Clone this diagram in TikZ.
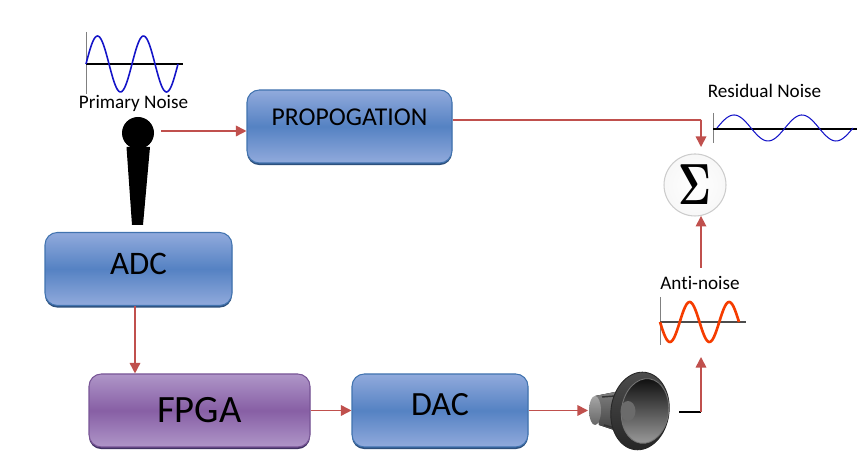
\documentclass[tikz,border=0pt]{standalone}
\usepackage{fontspec}
\setmainfont[Ligatures=NoCommon]{Carlito}
\usetikzlibrary{arrows.meta,shapes.geometric,shadows}
\definecolor{linered}{RGB}{192,80,77}
\definecolor{blueedge}{RGB}{65,115,175}
\definecolor{blueshade}{RGB}{45,80,125}
\definecolor{bluelight}{RGB}{145,170,220}
\definecolor{bluemid}{RGB}{85,130,195}
\definecolor{purpleedge}{RGB}{120,85,150}
\definecolor{purpleshade}{RGB}{65,50,100}
\definecolor{purplelight}{RGB}{175,150,200}
\definecolor{purplemid}{RGB}{135,95,165}
\definecolor{waveblue}{RGB}{20,20,200}
\definecolor{wavered}{RGB}{245,60,0}
\begin{document}
\begin{tikzpicture}
    \tikzstyle{blk} = [draw=blueedge, line width=0.6pt, rounded corners=7pt, top color=bluelight, bottom color=bluelight, middle color=bluemid, text=black, inner sep=0pt, drop shadow={shadow xshift=0pt, shadow yshift=-1.2pt, opacity=1, fill=blueshade}]
    \tikzstyle{plk} = [draw=purpleedge, line width=0.6pt, rounded corners=7pt, top color=purplelight, bottom color=purplelight, middle color=purplemid, text=black, inner sep=0pt, drop shadow={shadow xshift=0pt, shadow yshift=-1.2pt, opacity=1, fill=purpleshade}]
    \tikzstyle{arr} = [draw=linered, line width=0.9pt, -{Triangle[length=6pt, width=6pt]}]
    \tikzstyle{seg} = [draw=linered, line width=0.9pt]
    \tikzstyle{axisline} = [draw=black, line width=1pt]
    \tikzstyle{axisv} = [draw=gray, line width=0.4pt]
    \tikzstyle{lbl} = [inner sep=0pt, font=\fontsize{10.9}{12}\selectfont]
    \useasboundingbox (0, 0) rectangle (17.2, 9.16);

    % boxes
    \node[blk, minimum width=4.1cm, minimum height=1.46cm, font=\fontsize{14.6}{15}\selectfont] (prop) at (6.99, 6.63) {\raisebox{10.5pt}{PROPOGATION}};
    \node[blk, minimum width=3.74cm, minimum height=1.46cm, font=\fontsize{18.7}{19}\selectfont] (adc) at (2.77, 3.78) {\raisebox{6pt}{ADC}};
    \node[plk, minimum width=4.42cm, minimum height=1.46cm, font=\fontsize{22}{23}\selectfont] (fpga) at (3.99, 0.95) {FPGA};
    \node[blk, minimum width=3.52cm, minimum height=1.46cm, font=\fontsize{19.3}{20}\selectfont] (dac) at (8.8, 0.95) {\raisebox{7pt}{DAC}};
    \node[circle, draw=black!20, line width=0.6pt, inner color=white, outer color=black!3, minimum size=1.24cm, inner sep=0pt] (sum) at (13.9, 5.46) {\scalebox{2.25}[3.3]{\boldmath$\Sigma$}};

    % labels
    \node[lbl] (primary) at (2.67, 7.1) {Primary Noise};
    \node[lbl] (residual) at (15.29, 7.34) {Residual Noise};
    \node[lbl] (antinoise) at (14.0, 3.5) {Anti-noise};

    % microphone
    \node[circle, fill=black, minimum size=0.64cm, inner sep=0pt] (mic) at (2.76, 6.5) {};
    \fill[black] (2.53, 6.22) -- (3.0, 6.22) -- (2.86, 4.66) -- (2.64, 4.66) -- cycle;

    % speaker
    \fill[top color=black!50, bottom color=black!75] (11.9, 1.24) -- (12.4, 1.34) -- (12.4, 0.52) -- (11.98, 0.66) -- cycle;
    \node[ellipse, draw=none, top color=black!35, bottom color=black!60, minimum width=0.24cm, minimum height=0.58cm, inner sep=0pt] (magnet) at (11.9, 0.95) {};
    \draw[black!80, line width=0.8pt] (12.04, 1.22) -- (12.3, 1.24);
    \draw[black!80, line width=0.8pt] (12.08, 0.66) -- (12.3, 0.6);
    \node[ellipse, rotate=-8, draw=black!85, line width=0.5pt, minimum width=1.16cm, minimum height=1.56cm, inner sep=0pt, top color=black!70, bottom color=black!85] (spk) at (12.8, 0.94) {};
    \node[ellipse, rotate=-8, draw=black!55, line width=0.5pt, minimum width=0.94cm, minimum height=1.3cm, inner sep=0pt, top color=black!95, bottom color=black!40] (cone) at (12.9, 0.94) {};
    \node[ellipse, fill=black!58, minimum width=0.3cm, minimum height=0.4cm, inner sep=0pt] (cap) at (12.56, 0.94) {};
    \coordinate (spkin) at (11.76, 0.95);
    \coordinate (spkout) at (13.58, 0.92);

    % waves
    \draw[axisv] (1.72, 8.52) -- (1.72, 7.28);
    \draw[axisline] (1.72, 7.88) -- (3.66, 7.88);
    \draw[waveblue, line width=0.9pt, domain=0:2, samples=80, smooth] plot ({1.72 + 1.84*\x/2}, {7.88 + 0.56*sin(360*\x)});
    \draw[axisv] (14.26, 6.9) -- (14.26, 6.3);
    \draw[axisline] (14.26, 6.58) -- (17.14, 6.58);
    \draw[waveblue, line width=0.6pt, domain=0:2, samples=80, smooth] plot ({14.34 + 2.72*\x/2}, {6.6 + 0.26*sin(360*\x)});
    \draw[axisv] (13.2, 3.22) -- (13.2, 2.26);
    \draw[draw=black!70, line width=0.9pt] (13.2, 2.72) -- (14.92, 2.72);
    \draw[wavered, line width=1.5pt, domain=0:2, samples=80, smooth] plot ({13.2 + 1.58*\x/2}, {2.72 - 0.4*sin(360*\x)});

    % connectors
    \coordinate (micout) at (3.22, 6.54);
    \coordinate (adcout) at (2.7, 3.04);
    \coordinate (sumturn) at (14.02, 6.76);
    \coordinate (spkturn) at (14.02, 0.92);
    \coordinate (spktop) at (14.02, 2.02);
    \coordinate (antiout) at (14.02, 3.8);

    \path[arr] (micout) to (micout -| prop.west);
    \path[seg] (prop.east |- sumturn) to (sumturn);
    \path[arr, shorten >=4pt] (sumturn) to (sum.79);
    \path[arr] (adcout) to (adcout |- fpga.north);
    \path[arr] (fpga.east) to (dac.west);
    \path[arr] (dac.east) to (spkin);
    \draw[black, line width=0.7pt] (spkout) -- (spkturn);
    \path[arr] (spkturn) to (spktop);
    \path[arr] (antiout) to (sum.281);
\end{tikzpicture}
\end{document}
